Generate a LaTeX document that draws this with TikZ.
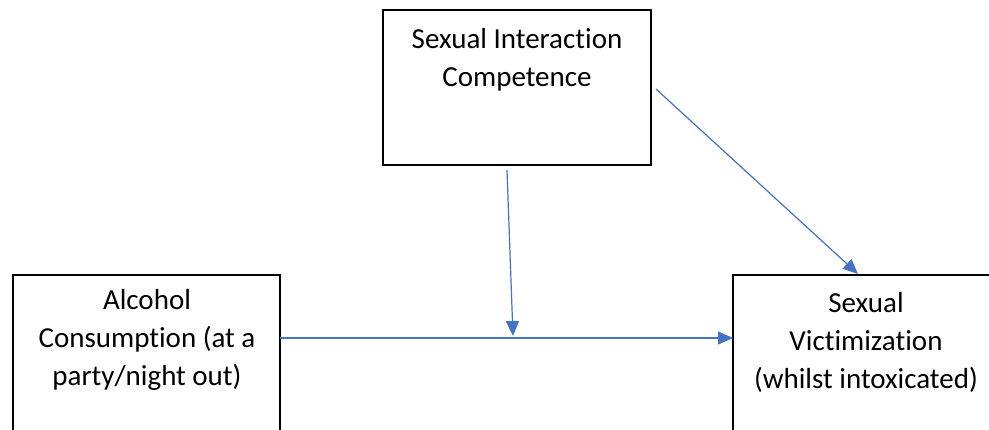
\documentclass[tikz,border=0pt]{standalone}
\usepackage{fontspec}
\setmainfont[Ligatures={NoCommon},Contextuals={NoAlternate}]{Carlito}
\usetikzlibrary{arrows.meta,calc}
\definecolor{arrowblue}{HTML}{4472C4}
\begin{document}
\begin{tikzpicture}[x=1pt,y=-1pt,
  box/.style={draw=black,line width=1.6pt,rectangle,inner sep=0pt,outer sep=0pt,anchor=north west},
  txt/.style={font=\fontsize{29pt}{38pt}\selectfont,align=center,inner sep=0pt,anchor=base},
  arr/.style={draw=arrowblue,line width=1.2pt,-{Triangle[length=15pt,width=13pt]}}]
\useasboundingbox (0,0) rectangle (989,429);
\fill[white] (0,0) rectangle (989,429);
\clip (0,0) rectangle (989,429);
% boxes
\node[box,minimum width=268pt,minimum height=155pt] (sic) at (383,10) {};
\node[box,minimum width=267pt,minimum height=200pt] (alc) at (13,275) {};
\node[box,minimum width=266pt,minimum height=200pt] (vic) at (733,275) {};
% texts (anchor = baseline of last line)
\node[txt] (sictxt) at (517,86) {Sexual Interaction\\Competence};
\node[txt] (alctxt) at (147,385) {Alcohol\\Consumption (at a\\party/night out)};
\node[txt] (victxt) at (866,388) {Sexual\\Victimization\\(whilst intoxicated)};
% connector anchor points
\coordinate (mid) at (0,338);
\coordinate (vstart) at ($(sic.south)+(-10,5)$);
\coordinate (vend) at (513,336);
\coordinate (dstart) at ($(sic.north east)+(5,79)$);
\coordinate (dend) at ($(vic.north west)+(125,-1)$);
% connectors
\draw[arr] (alc.north east |- mid) -- (vic.north west |- mid);
\draw[arr] (vstart) -- (vend);
\draw[arr] (dstart) -- (dend);
\end{tikzpicture}
\end{document}
